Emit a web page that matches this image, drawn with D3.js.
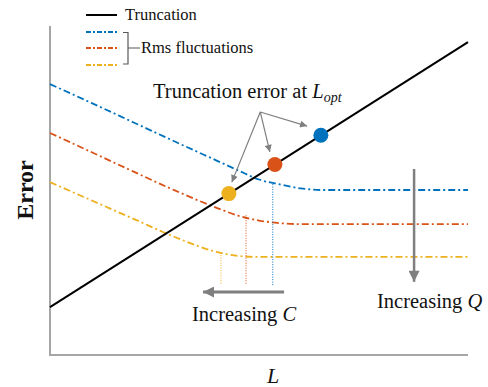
<!DOCTYPE html>
<html><head><meta charset="utf-8">
<script src="https://cdn.jsdelivr.net/npm/d3@7"></script>
<style>body{margin:0;background:#fff}svg{display:block}text{font-family:"Liberation Serif","Times New Roman",serif;fill:#111}</style>
</head><body><svg id="c" width="488" height="387"></svg>
<script>
// ---- data (arbitrary units) ----
const Lgrid = [0,1,2,3,4,4.5,5,5.5,6,6.5,7,8,9,10];
const truncL = [0,10];
const truncE = [1.46,9.54];
const rmsHighC = [8.26,7.68,7.09,6.50,5.92,5.63,5.35,5.20,5.08,5.03,5.03,5.03,5.03,5.03];
const rmsMidC  = [6.77,6.18,5.59,5.01,4.48,4.25,4.10,4.02,3.99,3.99,3.99,3.99,3.99,3.99];
const rmsLowC  = [5.27,4.71,4.15,3.59,3.14,3.02,2.99,2.99,2.99,2.99,2.99,2.99,2.99,2.99];
const optL = [6.48,5.38,4.28];
const optE = [6.70,5.81,4.92];
const dropL = [5.33,4.69,4.09];
const dropTopE = [5.21,4.26,3.12];
const dropBottomE = 2.13;
const seriesNames = ["Truncation","Rms fluctuations"];
const colors = ["#0072BD","#D95319","#EDB120"];

const svg = d3.select("#c");
const x = d3.scaleLinear().domain([0,10]).range([50,468]);
const y = d3.scaleLinear().domain([0,10]).range([355,27]);

const defs = svg.append("defs");
function marker(id,w,h){
  defs.append("marker").attr("id",id).attr("viewBox","0 0 10 10").attr("refX",10).attr("refY",5)
   .attr("markerWidth",w).attr("markerHeight",h).attr("markerUnits","userSpaceOnUse").attr("orient","auto")
   .append("path").attr("d","M0,0L10,5L0,10Z").attr("fill","#7f7f7f");
}
marker("sm",9,7); marker("big",12,11);

// axes
svg.append("line").attr("x1",x(0)).attr("x2",x(0)).attr("y1",y(10.03)).attr("y2",y(0)).attr("stroke","#a6a6a6").attr("stroke-width",2);
svg.append("line").attr("x1",x(0)-1).attr("x2",x(10)).attr("y1",y(0)).attr("y2",y(0)).attr("stroke","#a6a6a6").attr("stroke-width",2);

const line = d3.line().x(d=>x(d[0])).y(d=>y(d[1])).curve(d3.curveMonotoneX);
const dash = "7,3,2,3";
[rmsHighC,rmsMidC,rmsLowC].forEach((s,i)=>{
  svg.append("path").attr("d",line(Lgrid.map((l,j)=>[l,s[j]]))).attr("fill","none")
   .attr("stroke",colors[i]).attr("stroke-width",1.8).attr("stroke-dasharray",dash);
});
// drop lines
dropL.forEach((l,i)=>{
  svg.append("line").attr("x1",x(l)).attr("x2",x(l)).attr("y1",y(dropTopE[i])).attr("y2",y(dropBottomE))
   .attr("stroke",colors[i]).attr("stroke-width",1).attr("stroke-dasharray","1,1.5");
});
// truncation
svg.append("path").attr("d",d3.line().x(d=>x(d[0])).y(d=>y(d[1]))(truncL.map((l,j)=>[l,truncE[j]])))
 .attr("stroke","#000").attr("stroke-width",2).attr("fill","none");

// annotation arrows
const annOrigin = [5.03,7.41];
const annTips = [[6.15,6.98],[5.26,6.19],[4.35,5.27]];
annTips.forEach(t=>{
  svg.append("line").attr("x1",x(annOrigin[0])).attr("y1",y(annOrigin[1])).attr("x2",x(t[0])).attr("y2",y(t[1]))
   .attr("stroke","#7f7f7f").attr("stroke-width",1.2).attr("marker-end","url(#sm)");
});
// dots
optL.forEach((l,i)=>{
  svg.append("circle").attr("cx",x(l)).attr("cy",y(optE[i])).attr("r",7.5).attr("fill",colors[i]);
});

// big arrows
svg.append("line").attr("x1",x(5.60)).attr("x2",x(3.66)).attr("y1",y(1.92)).attr("y2",y(1.92))
 .attr("stroke","#7f7f7f").attr("stroke-width",3).attr("marker-end","url(#big)");
svg.append("line").attr("x1",x(8.71)).attr("x2",x(8.71)).attr("y1",y(5.67)).attr("y2",y(2.23))
 .attr("stroke","#7f7f7f").attr("stroke-width",2.5).attr("marker-end","url(#big)");

// texts
const t1 = svg.append("text").attr("x",153).attr("y",98).attr("font-size",20.5);
t1.append("tspan").text("Truncation error at ");
t1.append("tspan").attr("font-style","italic").text("L");
t1.append("tspan").attr("font-style","italic").attr("font-size",14).attr("dy",4).text("opt");

const tc = svg.append("text").attr("x",192).attr("y",321).attr("font-size",20.5);
tc.append("tspan").text("Increasing ");
tc.append("tspan").attr("font-style","italic").text("C");
const tq = svg.append("text").attr("x",377).attr("y",308).attr("font-size",20.5);
tq.append("tspan").text("Increasing ");
tq.append("tspan").attr("font-style","italic").text("Q");

svg.append("text").attr("x",273).attr("y",383).attr("text-anchor","middle").attr("font-size",22).attr("font-style","italic").text("L");
svg.append("text").attr("transform","translate(33,190) rotate(-90)").attr("text-anchor","middle").attr("font-size",24).attr("font-weight","bold").text("Error");

// legend
svg.append("line").attr("x1",86).attr("x2",117).attr("y1",15).attr("y2",15).attr("stroke","#000").attr("stroke-width",2);
svg.append("text").attr("x",125).attr("y",20).attr("font-size",16.5).text(seriesNames[0]);
[32,48,65].forEach((yy,i)=>{
  svg.append("line").attr("x1",86).attr("x2",117).attr("y1",yy).attr("y2",yy).attr("stroke",colors[i]).attr("stroke-width",1.8).attr("stroke-dasharray","5,2,2,2");
});
svg.append("path").attr("d","M123,32.5H128V64H123M128,48H140").attr("fill","none").attr("stroke","#595959").attr("stroke-width",1.2);
svg.append("text").attr("x",141).attr("y",53).attr("font-size",16.5).text(seriesNames[1]);
</script></body></html>
